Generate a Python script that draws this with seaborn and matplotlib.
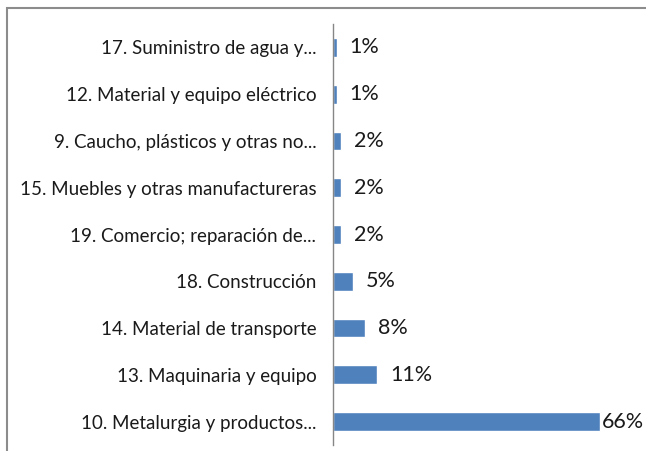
import matplotlib
matplotlib.use("Agg")
import matplotlib.pyplot as plt
import matplotlib.patches as mpatches
import seaborn as sns
import pandas as pd
import numpy as np

# datos (de arriba hacia abajo)
sectores = [
    "17. Suministro de agua y...",
    "12. Material y equipo eléctrico",
    "9. Caucho, plásticos y otras no...",
    "15. Muebles y otras manufactureras",
    "19. Comercio; reparación de...",
    "18. Construcción",
    "14. Material de transporte",
    "13. Maquinaria y equipo",
    "10. Metalurgia y productos...",
]
porcentajes = [1, 1, 2, 2, 2, 5, 8, 11, 66]
etiquetas = ["1%", "1%", "2%", "2%", "2%", "5%", "8%", "11%", "66%"]

df = pd.DataFrame({"sector": sectores, "pct": porcentajes})

sns.set_style("white")
plt.rcParams["font.family"] = ["Lato", "DejaVu Sans"]

fig = plt.figure(figsize=(6.46, 4.51), dpi=100)
fig.patch.set_facecolor("white")

# marco gris del gráfico
fig.add_artist(mpatches.Rectangle((7 / 646, -0.1), 1.0, 1 - 8 / 451 + 0.1,
                                  transform=fig.transFigure, fill=False,
                                  edgecolor="#8c8c8c", linewidth=1.5))

ax = fig.add_axes([333 / 646, 1 - 445 / 451, 1 - 333 / 646, (445 - 24) / 451])
sns.barplot(data=df, y="sector", x="pct", orient="h", color="#4f81bd",
            saturation=1, width=0.4, ax=ax)

ax.set_xlim(0, 77.4)
ax.set_ylim(len(sectores) - 0.5, -0.5)
ax.set_xlabel("")
ax.set_ylabel("")
ax.set_xticks([])
for s in ["top", "right", "bottom"]:
    ax.spines[s].set_visible(False)
ax.spines["left"].set_color("#868686")
ax.spines["left"].set_linewidth(1)

# ticks entre categorías
ax.set_yticks(np.arange(len(sectores)))
ax.set_yticks(np.arange(len(sectores) + 1) - 0.5, minor=True)
ax.tick_params(axis="y", which="major", length=0, pad=12, labelsize=13.5, labelcolor="#1a1a1a")
ax.tick_params(axis="y", which="minor", length=5, width=1, color="#868686", direction="out")

for i, (v, t) in enumerate(zip(porcentajes, etiquetas)):
    pad = 1.5 if v > 50 else 9
    ax.annotate(t, (v, i), xytext=(pad, 0), textcoords="offset points",
                va="center", ha="left", fontsize=15.5, color="#1a1a1a")

fig.savefig("out.png", dpi=100)
